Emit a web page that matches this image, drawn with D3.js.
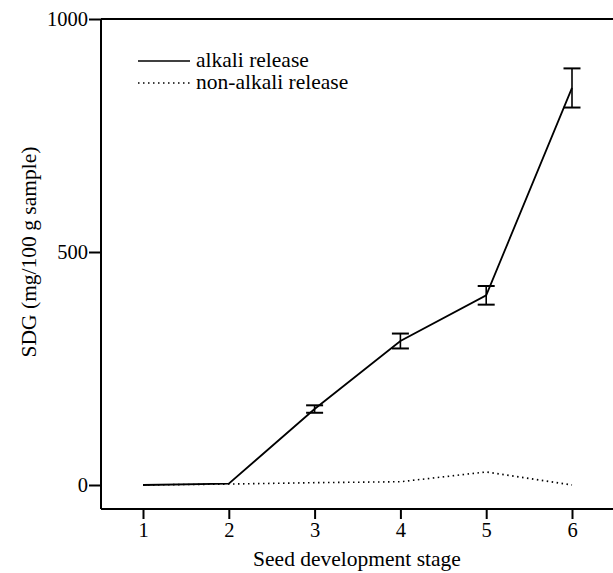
<!DOCTYPE html>
<html><head><meta charset="utf-8">
<script src="https://cdn.jsdelivr.net/npm/d3@7"></script>
<style>body{margin:0;background:#fff}svg{display:block}text{font-family:"Liberation Serif","Times New Roman",serif;fill:#000}</style>
</head><body><svg id="c" width="613" height="573"></svg>
<script>
const stages = [1, 2, 3, 4, 5, 6];
const alkali = [0, 3, 163, 309, 407, 852];
const alkaliErr = [0, 0, 8, 16, 20, 42];
const nonAlkali = [0, 2, 5, 7, 28, 0];
const yTicks = [0, 500, 1000];
const legendLabels = ["alkali release", "non-alkali release"];

(function () {
const svg = d3.select("#c");
const x = d3.scaleLinear().domain([1, 6]).range([143, 572]);
const y = d3.scaleLinear().domain([0, 1000]).range([485, 19]);
const mLeft = 101, mBottom = 509, mRight = 613, mTop = 19;

// frame
svg.append("line").attr("x1", mLeft).attr("x2", mLeft).attr("y1", mTop).attr("y2", mBottom).attr("stroke", "#000").attr("stroke-width", 2);
svg.append("line").attr("x1", mLeft).attr("x2", mRight).attr("y1", mBottom).attr("y2", mBottom).attr("stroke", "#000").attr("stroke-width", 2);
svg.append("line").attr("x1", mLeft).attr("x2", mRight).attr("y1", mTop).attr("y2", mTop).attr("stroke", "#000").attr("stroke-width", 2);

// y axis
const ya = svg.append("g").attr("transform", `translate(${mLeft},0)`)
  .call(d3.axisLeft(y).tickValues(yTicks).tickSize(12).tickPadding(1).tickFormat(d3.format("d")));
ya.select(".domain").remove();
ya.selectAll("line").attr("stroke", "#000").attr("stroke-width", 2);
ya.selectAll("text").style("font-size", "20.5px").attr("font-family", "Liberation Serif");

// x axis
const xa = svg.append("g").attr("transform", `translate(0,${mBottom})`)
  .call(d3.axisBottom(x).tickValues(stages).tickSize(10).tickPadding(3).tickFormat(d3.format("d")));
xa.select(".domain").remove();
xa.selectAll("line").attr("stroke", "#000").attr("stroke-width", 2);
xa.selectAll("text").style("font-size", "20.5px").attr("font-family", "Liberation Serif");

// lines
const line = d3.line().x((d, i) => x(stages[i])).y(d => y(d));
svg.append("path").datum(nonAlkali).attr("d", line).attr("fill", "none").attr("stroke", "#000").attr("stroke-width", 1.6).attr("stroke-dasharray", "1.5,3.5");
svg.append("path").datum(alkali).attr("d", line).attr("fill", "none").attr("stroke", "#000").attr("stroke-width", 1.8);

// error bars
const eb = svg.append("g");
alkali.forEach((v, i) => {
  const e = alkaliErr[i];
  if (!e) return;
  const cx = x(stages[i]);
  eb.append("line").attr("x1", cx).attr("x2", cx).attr("y1", y(v + e)).attr("y2", y(v - e)).attr("stroke", "#000").attr("stroke-width", 1.6);
  [v + e, v - e].forEach(w => eb.append("line").attr("x1", cx - 8.5).attr("x2", cx + 8.5).attr("y1", y(w)).attr("y2", y(w)).attr("stroke", "#000").attr("stroke-width", 2));
});

// legend
const lg = svg.append("g");
lg.append("line").attr("x1", 138).attr("x2", 190).attr("y1", 61).attr("y2", 61).attr("stroke", "#000").attr("stroke-width", 1.6);
lg.append("line").attr("x1", 138).attr("x2", 190).attr("y1", 83).attr("y2", 83).attr("stroke", "#000").attr("stroke-width", 1.6).attr("stroke-dasharray", "1.5,3.5");
lg.append("text").attr("x", 196).attr("y", 67).style("font-size", "21.5px").text(legendLabels[0]);
lg.append("text").attr("x", 196).attr("y", 89).style("font-size", "21.5px").text(legendLabels[1]);

// axis titles
svg.append("text").attr("x", 357).attr("y", 566).attr("text-anchor", "middle").style("font-size", "21.5px").text("Seed development stage");
svg.append("text").attr("transform", "translate(36,252) rotate(-90)").attr("text-anchor", "middle").style("font-size", "21.5px").text("SDG (mg/100 g sample)");
})();
</script></body></html>
